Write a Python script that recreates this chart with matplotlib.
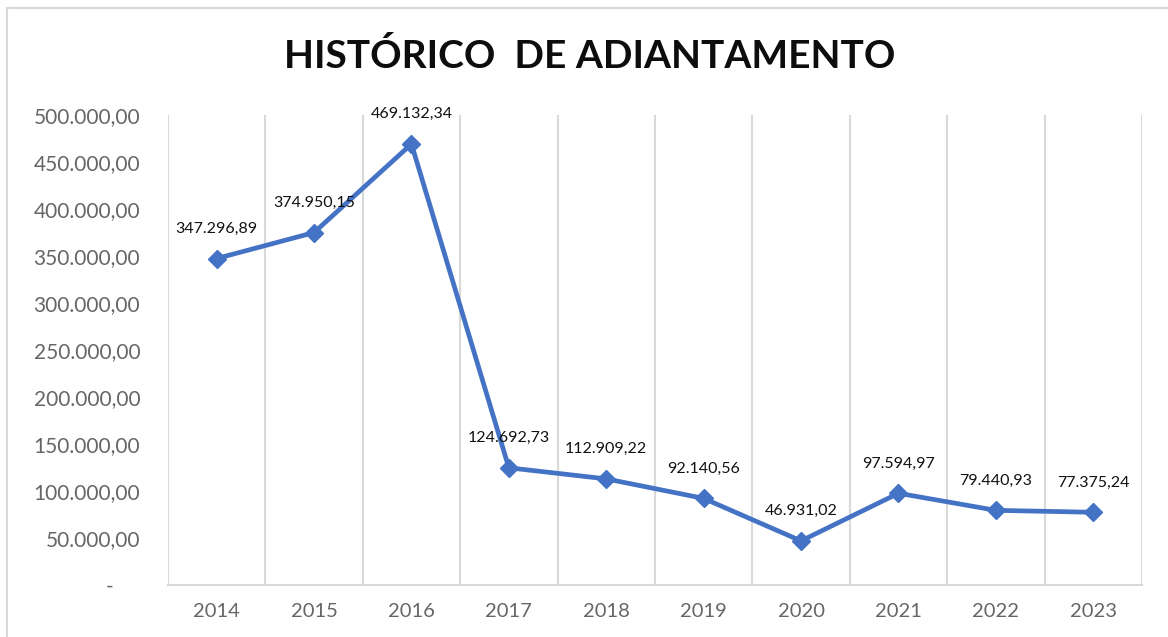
import matplotlib.pyplot as plt
from matplotlib.ticker import FuncFormatter, MultipleLocator
from matplotlib.patches import Rectangle
import numpy as np

plt.rcParams['font.family'] = ['Lato', 'DejaVu Sans']

anos = ['2014', '2015', '2016', '2017', '2018', '2019', '2020', '2021', '2022', '2023']
valores = [347296.89, 374950.15, 469132.34, 124692.73, 112909.22,
           92140.56, 46931.02, 97594.97, 79440.93, 77375.24]

azul = '#4472C4'
cinza = '#D9D9D9'


def moeda_br(v, pos=None):
    if v == 0:
        return '-     '
    s = f'{v:,.2f}'
    return s.replace(',', '#').replace('.', ',').replace('#', '.')


fig = plt.figure(figsize=(11.68, 6.37), dpi=100)
ax = fig.add_axes([0.1438, 0.0816, 0.8339, 0.7379])

# moldura da figura
fig.patches.append(Rectangle((7 / 1168, -0.1), 1.2, 1 - 8 / 637 + 0.1,
                             transform=fig.transFigure, fill=False,
                             edgecolor=cinza, linewidth=1.5))

x = np.arange(len(anos))
ax.plot(x, valores, color=azul, linewidth=3.4, marker='D', markersize=9,
        zorder=3)

for i, v in enumerate(valores):
    ax.annotate(moeda_br(v), (i, v), xytext=(0, 21.5), textcoords='offset points',
                ha='center', va='center', fontsize=11.5, color='#111111')

ax.set_xlim(-0.5, len(anos) - 0.5)
ax.set_ylim(0, 500000)
ax.set_xticks(x)
ax.set_xticklabels(anos)
ax.xaxis.set_minor_locator(MultipleLocator(1, offset=0.5))
ax.grid(which='minor', axis='x', color=cinza, linewidth=1.5)
ax.grid(which='major', axis='x', visible=False)
ax.yaxis.set_major_locator(MultipleLocator(50000))
ax.yaxis.set_major_formatter(FuncFormatter(moeda_br))

for lado in ['top', 'right', 'left']:
    ax.spines[lado].set_visible(False)
ax.spines['bottom'].set_color(cinza)
ax.spines['bottom'].set_linewidth(1.5)

ax.tick_params(axis='y', length=0, pad=20, labelsize=15, labelcolor='#666666')
ax.tick_params(axis='x', which='both', length=0, pad=13, labelsize=14.5,
               labelcolor='#666666')

fig.text(0.505, 0.912, 'HISTÓRICO  DE ADIANTAMENTO', ha='center', va='center',
         fontsize=28, fontweight='bold', color='#0D0D0D')

fig.savefig('out.png', dpi=100)
